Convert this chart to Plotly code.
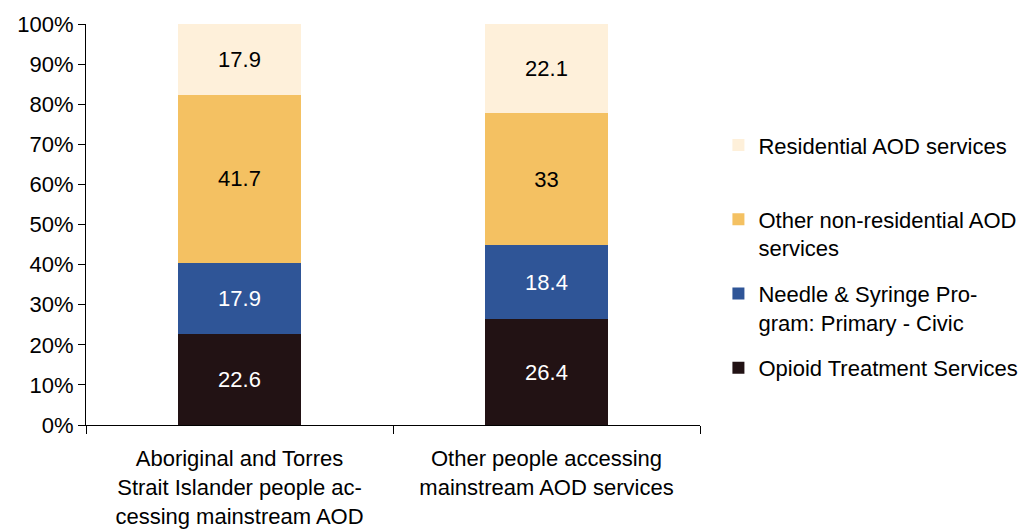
import plotly.graph_objects as go

categories = [
    "Aboriginal and Torres<br>Strait Islander people ac-<br>cessing mainstream AOD",
    "Other people accessing<br>mainstream AOD services",
]
series_names = [
    "Opioid Treatment Services",
    "Needle & Syringe Pro-<br>gram: Primary - Civic",
    "Other non-residential AOD<br>services",
    "Residential AOD services<br> ",
]
opioid = [22.6, 26.4]
needle = [17.9, 18.4]
other_nonres = [41.7, 33]
residential = [17.9, 22.1]
values = [opioid, needle, other_nonres, residential]
colors = ["#221214", "#2F5597", "#F4C162", "#FEF0DA"]
text_colors = ["white", "white", "black", "black"]
legend_ranks = [4, 3, 2, 1]
tick_vals = [0, 10, 20, 30, 40, 50, 60, 70, 80, 90, 100]
tick_text = [f"{v}%" for v in tick_vals]

FONT = "Arial, Liberation Sans, sans-serif"
FS = 22

fig = go.Figure()
for i, (name, vals, col, tcol, rank) in enumerate(
        zip(series_names, values, colors, text_colors, legend_ranks)):
    fig.add_trace(go.Bar(
        x=categories, y=vals, name=name, legendgroup=f"g{i}",
        legendrank=rank,
        marker=dict(color=col, line=dict(width=0)),
        text=[str(v) for v in vals], textposition="inside",
        insidetextanchor="middle",
        textfont=dict(color=tcol, size=FS, family=FONT),
        width=0.4,
    ))

fig.update_layout(
    barmode="stack",
    width=1036, height=529,
    margin=dict(l=86, r=336, t=24, b=104),
    plot_bgcolor="white", paper_bgcolor="white",
    font=dict(family=FONT, size=FS, color="black"),
    showlegend=True,
    legend=dict(
        x=1.03, xanchor="left", y=0.75, yanchor="top",
        traceorder="grouped", valign="top",
        font=dict(size=FS, family=FONT, color="black"),
        tracegroupgap=14, itemwidth=30,
    ),
    uniformtext=dict(mode=False),
)
fig.update_yaxes(
    range=[0, 100], tickvals=tick_vals, ticktext=tick_text,
    showline=True, linecolor="black", linewidth=1,
    ticks="outside", ticklen=7, tickcolor="black",
    showgrid=False, zeroline=False,
    tickfont=dict(size=FS, family=FONT, color="black"),
    automargin=False,
)
fig.update_xaxes(
    showline=True, linecolor="black", linewidth=1,
    ticks="outside", ticklen=8, tickcolor="black", tickson="boundaries",
    showgrid=False, ticklabelstandoff=14,
    tickfont=dict(size=FS, family=FONT, color="black"),
    automargin=False,
)
fig.write_html("out.html")
